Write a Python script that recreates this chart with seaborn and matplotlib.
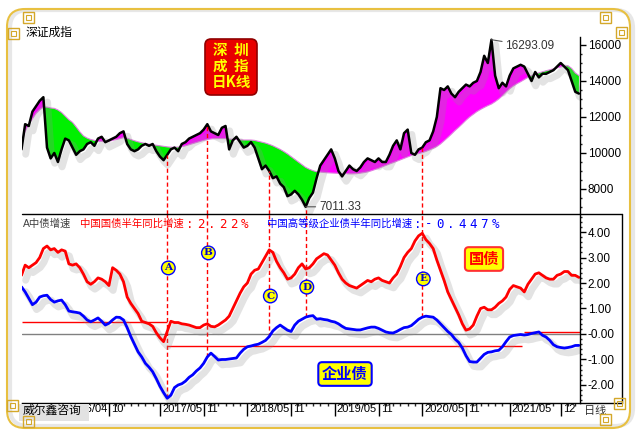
import numpy as np
import pandas as pd
import matplotlib
matplotlib.use('Agg')
import matplotlib.pyplot as plt
import matplotlib.patheffects as pe
from matplotlib.patches import FancyBboxPatch, Rectangle
from matplotlib.lines import Line2D
from matplotlib.ticker import MultipleLocator, FixedLocator
from matplotlib.transforms import ScaledTranslation
import seaborn as sns

# 半月一個樣本，從 2015/10 起
price = [10200, 11600, 11500, 12300, 12600, 12900, 13100, 10300, 9700, 10000,
         9500, 10200, 10800, 10700, 10300, 9900, 10100, 10200, 10500, 10600,
         10400, 10800, 10900, 10600, 10700, 10800, 10900, 11100, 11200, 10500,
         10200, 10100, 10200, 10400, 10500, 10400, 10500, 10100, 9800, 9600,
         9900, 10200, 10300, 10100, 10500, 10600, 10800, 10900, 11000, 11100,
         11300, 11600, 11200, 11100, 11000, 11400, 11500, 10200, 10700, 10900,
         10600, 10300, 10400, 10600, 10300, 9700, 9100, 9300, 9000, 8600,
         8700, 8300, 8100, 7600, 7700, 7900, 7700, 7400, 7011.33, 7500,
         7800, 8600, 9300, 9600, 9900, 10200, 9700, 9000, 8700, 9000,
         9300, 9100, 9000, 9200, 9500, 9700, 9600, 9500, 9700, 9500,
         9500, 9900, 10400, 10700, 10200, 11100, 11300, 10000, 9900, 10200,
         10300, 10600, 10700, 11200, 12000, 13600, 13500, 13700, 13300, 13100,
         13400, 13600, 13800, 13700, 13900, 14000, 14500, 15400, 15000, 16293.09,
         14300, 13600, 13900, 13700, 14300, 14700, 14800, 14900, 14800, 14400,
         14000, 14500, 14200, 14400, 14400, 14500, 14600, 14800, 15000, 14800,
         14600, 14000, 13400, 13300]

base = [10500, 11200, 11600, 11900, 12200, 12400, 12550, 12550, 12500, 12480,
        12390, 12250, 12050, 11850, 11700, 11450, 11180, 10950, 10830, 10750,
        10700, 10650, 10650, 10620, 10650, 10700, 10750, 10800, 10850, 10820,
        10750, 10680, 10620, 10570, 10530, 10490, 10460, 10430, 10400, 10370,
        10340, 10320, 10320, 10330, 10350, 10400, 10460, 10520, 10580, 10640,
        10700, 10750, 10780, 10800, 10800, 10800, 10800, 10780, 10760, 10750,
        10730, 10720, 10720, 10720, 10700, 10650, 10600, 10550, 10480, 10400,
        10300, 10200, 10080, 9950, 9800, 9650, 9500, 9350, 9200, 9100,
        9020, 8960, 8940, 8920, 8900, 8890, 8880, 8870, 8860, 8850,
        8840, 8840, 8850, 8880, 8910, 8950, 9010, 9080, 9150, 9230,
        9310, 9390, 9460, 9540, 9620, 9700, 9780, 9860, 9920, 9970,
        10020, 10090, 10170, 10260, 10360, 10500, 10680, 10860, 11050, 11250,
        11430, 11620, 11820, 12000, 12150, 12300, 12420, 12530, 12630, 12720,
        12850, 13000, 13180, 13380, 13570, 13720, 13850, 13960, 14080, 14200,
        14300, 14380, 14450, 14510, 14570, 14620, 14680, 14730, 14780, 14820,
        14850, 14700, 14450, 14300]

gov = [2.3, 2.7, 2.6, 2.7, 2.8, 3.0, 3.35, 3.45, 3.3, 3.35,
       3.2, 3.3, 3.25, 2.75, 2.7, 2.75, 2.6, 2.35, 2.05, 1.95,
       2.05, 2.2, 2.15, 2.05, 1.9, 2.6, 2.5, 2.35, 2.05, 1.45,
       1.2, 1.0, 0.8, 0.5, 0.45, 0.4, 0.3, 0.05, -0.15, -0.3,
       0.1, 0.5, 0.45, 0.45, 0.4, 0.38, 0.35, 0.3, 0.25, 0.25,
       0.35, 0.4, 0.3, 0.28, 0.35, 0.45, 0.55, 0.7, 1.0, 1.3,
       1.6, 1.85, 2.0, 2.35, 2.5, 2.55, 2.8, 3.05, 3.3, 3.2,
       2.85, 2.6, 2.4, 2.15, 2.2, 2.35, 2.6, 2.75, 2.55, 2.6,
       2.75, 2.95, 3.05, 3.15, 3.1, 2.9, 2.7, 2.4, 2.15, 2.0,
       1.9, 1.85, 1.8, 1.9, 2.0, 2.1, 2.05, 2.15, 2.2, 2.1,
       2.05, 2.0, 2.2, 2.35, 2.65, 3.0, 3.2, 3.35, 3.65, 3.85,
       3.95, 3.7, 3.55, 3.35, 2.9, 2.5, 2.1, 1.65, 1.35, 1.05,
       0.75, 0.4, 0.15, 0.2, 0.35, 0.7, 1.0, 1.05, 0.95, 0.95,
       1.05, 1.2, 1.3, 1.45, 1.75, 1.9, 1.85, 1.8, 1.65, 1.95,
       2.15, 2.35, 2.4, 2.3, 2.2, 2.15, 2.15, 2.3, 2.35, 2.45,
       2.45, 2.3, 2.3, 2.22]

corp = [1.85, 1.65, 1.4, 1.15, 1.25, 1.45, 1.5, 1.52, 1.35, 1.25,
        1.3, 1.33, 1.15, 0.9, 0.87, 0.85, 0.82, 0.7, 0.55, 0.48,
        0.55, 0.63, 0.5, 0.35, 0.42, 0.55, 0.66, 0.65, 0.55, 0.25,
        -0.1, -0.4, -0.7, -0.9, -1.15, -1.3, -1.48, -1.75, -2.05, -2.3,
        -2.52, -2.4, -2.1, -2.0, -1.95, -1.85, -1.7, -1.6, -1.45, -1.33,
        -1.15, -0.9, -0.75, -0.88, -1.02, -1.0, -1.0, -0.98, -0.96, -0.94,
        -0.75, -0.6, -0.5, -0.47, -0.43, -0.4, -0.33, -0.25, -0.1, 0.12,
        0.25, 0.35, 0.25, 0.15, 0.1, 0.35, 0.5, 0.58, 0.66, 0.7,
        0.72, 0.58, 0.6, 0.57, 0.55, 0.5, 0.47, 0.4, 0.3, 0.22,
        0.2, 0.18, 0.16, 0.16, 0.2, 0.24, 0.27, 0.27, 0.22, 0.15,
        0.08, 0.05, 0.04, 0.1, 0.18, 0.25, 0.27, 0.33, 0.45, 0.58,
        0.66, 0.7, 0.68, 0.66, 0.55, 0.4, 0.25, 0.1, -0.02, -0.2,
        -0.33, -0.55, -0.85, -1.08, -1.1, -1.1, -0.95, -0.8, -0.72, -0.7,
        -0.66, -0.64, -0.5, -0.3, -0.12, -0.06, -0.04, -0.02, -0.04, -0.02,
        0.02, 0.05, 0.08, -0.05, -0.12, -0.25, -0.42, -0.5, -0.53, -0.55,
        -0.53, -0.5, -0.45, -0.447]

# x 軸刻度（半月序號）與標籤
tick_pos = [12, 24, 38, 50, 62, 74, 86, 98, 110, 122, 134, 148]
tick_labels = ['2016/04', '10', '2017/05', '11', '2018/05', '11',
               '2019/05', '11', '2020/05', '11', '2021/05', '12']

# 事件標記 A-E
event_names = ['A', 'B', 'C', 'D', 'E']
event_idx = [40, 51, 68, 78, 110]
event_label_y = [2.59, 3.18, 1.49, 1.84, 2.16]

# 紅色參考水平線
ref_levels = [0.46, -0.49, 0.07]
ref_start = [0, 40, 138]
ref_end = [40, 137.5, 153.3]

W, H = 640, 440


def fp(x, y):  # 像素 -> figure 座標
    return x / W, 1 - y / H


df = pd.DataFrame({'t': np.arange(len(price)), 'price': price, 'base': base,
                   'gov': gov, 'corp': corp})

sns.set_theme(style='white')
plt.rcParams['font.family'] = ['Liberation Sans', 'Noto Sans CJK SC', 'DejaVu Sans']
plt.rcParams['axes.unicode_minus'] = False
cjk = ['Noto Sans CJK SC', 'DejaVu Sans']

fig = plt.figure(figsize=(6.4, 4.4), dpi=100)
fig.patch.set_facecolor('white')

shadow = [pe.SimpleLineShadow(offset=(3, -3.5), shadow_color='#909090', alpha=0.25, linewidth=5), pe.Normal()]

# 上圖：深證成指
ax1 = fig.add_axes([21.5 / W, 1 - 214 / H, (580 - 21.5) / W, (214 - 12) / H])
p = np.array(price)
b = np.array(base)
t = df['t'].values
ax1.fill_between(t, p, b, where=p >= b, interpolate=True, color='#ff00ff', lw=0)
ax1.fill_between(t, p, b, where=p < b, interpolate=True, color='#00f000', lw=0)
sns.lineplot(data=df, x='t', y='base', ax=ax1, color='#e080e0', lw=0.8)
sns.lineplot(data=df, x='t', y='price', ax=ax1, color='black', lw=1.8, path_effects=shadow)
ax1.set_xlim(0, 153.3)
ax1.set_ylim(6611, 17833)
for s in ['left', 'top', 'bottom']:
    ax1.spines[s].set_visible(False)
ax1.spines['right'].set_color('black')
ax1.spines['right'].set_linewidth(1)
ax1.spines['right'].set_bounds(6611, 16444)
ax1.yaxis.tick_right()
ax1.set_yticks([8000, 10000, 12000, 14000, 16000])
ax1.yaxis.set_minor_locator(FixedLocator(np.arange(7000, 16500, 500)))
ax1.tick_params(axis='y', which='major', direction='out', length=4.5, width=1, pad=1,
                labelsize=8.5, colors='black', right=True, left=False)
ax1.tick_params(axis='y', which='minor', direction='out', length=1.5, width=1, right=True, left=False)
ax1.set_xticks([])
ax1.set_xlabel('')
ax1.set_ylabel('')

# 最高/最低標註
pk = int(np.argmax(p))
lo = int(np.argmin(p))
ax1.annotate(f'{p[pk]:.2f}', xy=(pk, p[pk]), xytext=(10, -4.5), textcoords='offset points',
             fontsize=8.5, color='#333333', va='center', ha='left',
             arrowprops=dict(arrowstyle='-', color='#555555', lw=0.8, shrinkA=0, shrinkB=0))
ax1.annotate(f'{p[lo]:.2f}', xy=(lo, p[lo]), xytext=(9.5, 0), textcoords='offset points',
             fontsize=8.5, color='#333333', va='center', ha='left',
             arrowprops=dict(arrowstyle='-', color='#555555', lw=0.8, shrinkA=0, shrinkB=0))

# 下圖：債券增速
ax2 = fig.add_axes([21.5 / W, 1 - 403 / H, (580 - 21.5) / W, (403 - 214) / H])
ax2.axhline(0, color='#808080', lw=1, zorder=1)
ax2.hlines(ref_levels, ref_start, ref_end, colors='red', lw=1, zorder=1)
sns.lineplot(data=df, x='t', y='gov', ax=ax2, color='#ff0000', lw=2, path_effects=shadow)
sns.lineplot(data=df, x='t', y='corp', ax=ax2, color='#0000ff', lw=2, path_effects=shadow)
ax2.set_xlim(0, 153.3)
ax2.set_ylim(-2.706, 4.706)
ax2.spines['left'].set_visible(False)
ax2.spines['top'].set_visible(False)
for s in ['right', 'bottom']:
    ax2.spines[s].set_color('black')
    ax2.spines[s].set_linewidth(1)
ax2.yaxis.tick_right()
ax2.set_yticks([-2, -1, 0, 1, 2, 3, 4])
ax2.set_yticklabels(['-2.00', '-1.00', '-0.00', '1.00', '2.00', '3.00', '4.00'])
ax2.yaxis.set_minor_locator(MultipleLocator(0.2))
ax2.tick_params(axis='y', which='major', direction='out', length=4.5, width=1, pad=1,
                labelsize=8.5, colors='black', right=True, left=False)
ax2.tick_params(axis='y', which='minor', direction='out', length=1.5, width=1, right=True, left=False)
ax2.set_xticks(tick_pos)
ax2.set_xticklabels(tick_labels)
ax2.xaxis.set_minor_locator(MultipleLocator(2))
ax2.tick_params(axis='x', which='major', direction='out', length=9, width=1, pad=-8,
                labelsize=8, colors='black', bottom=True)
ax2.tick_params(axis='x', which='minor', direction='out', length=2.5, width=1, bottom=True)
offset = ScaledTranslation(1.5 / 72, 0, fig.dpi_scale_trans)
for lbl in ax2.get_xticklabels():
    lbl.set_horizontalalignment('left')
    lbl.set_transform(lbl.get_transform() + offset)
ax2.set_xlabel('')
ax2.set_ylabel('')

# 事件虛線與圈字
ylo1 = ax1.get_ylim()[0]
yhi2 = ax2.get_ylim()[1]
for name, i, ly in zip(event_names, event_idx, event_label_y):
    ax1.vlines(i, ylo1, p[i], colors='red', linestyles=(0, (3, 2)), lw=1, zorder=5)
    ax2.vlines(i, corp[i], yhi2, colors='red', linestyles=(0, (3, 2)), lw=1, zorder=1)
    ax2.text(i + 0.3, ly, name, ha='center', va='center', fontsize=7.5, fontweight='bold',
             color='#0000cc', family='DejaVu Serif', zorder=6,
             bbox=dict(boxstyle='circle,pad=0.22', fc='#ffff00', ec='#0000ff', lw=1))

# 分隔線與右側框
fig.add_artist(Line2D([21.5 / W, 622 / W], [1 - 214 / H, 1 - 214 / H], color='black', lw=1))
fig.add_artist(Line2D([622 / W, 622 / W], [1 - 214 / H, 1 - 403 / H], color='black', lw=1))
fig.add_artist(Line2D([580 / W, 622 / W], [1 - 403 / H, 1 - 403 / H], color='black', lw=1))

# 標題文字
fig.text(*fp(26, 33), '深证成指', fontsize=8.5, color='black', va='center', ha='left')
fig.text(*fp(23, 224), 'A中债增速', fontsize=7.5, color='#404040', va='center', ha='left')


def title_part(x0, head, value, color):
    # 中文部分用比例字型，數值部分按固定字距逐字排列
    fig.text(*fp(x0, 224), head, fontsize=7.5, color=color, va='center', ha='left', family=cjk)
    xs = x0 + 10.4 * len(head)
    for k, ch in enumerate(value):
        fig.text(*fp(xs + 11 * k + 5.5, 224), ch, fontsize=9, color=color, va='center', ha='center',
                 family='DejaVu Sans Mono')


title_part(80, '中国国债半年同比增速', f':{gov[-1]:.2f}%', '#ff0000')
title_part(267, '中国高等级企业债半年同比增速', f':{corp[-1]:.3f}%', '#0000ff')

# 紅底標籤
fig.add_artist(FancyBboxPatch((2.05, (440 - 95) / 100), 0.52, 0.56,
                              boxstyle='round,pad=0,rounding_size=0.06',
                              transform=fig.dpi_scale_trans, fc='#e80000', ec='#900000', lw=1.2))
for txt, yy in zip(['深  圳', '成  指', '日K线'], [50, 66, 82]):
    fig.text(*fp(231, yy), txt, fontsize=10.5, fontweight='bold', color='#ffff00',
             ha='center', va='center', family=cjk)

fig.text(*fp(484, 259), '国债', fontsize=11, fontweight='bold', color='#ff0000', ha='center', va='center',
         family=cjk, bbox=dict(boxstyle='round,pad=0.25', fc='#ffff00', ec='#ff3030', lw=1.5))
fig.text(*fp(345, 374), '企业债', fontsize=11, fontweight='bold', color='#0000ff', ha='center', va='center',
         family=cjk, bbox=dict(boxstyle='round,pad=0.25', fc='#ffff00', ec='#0000ff', lw=1.5))

# 底部文字（灰底蓋住部分刻度標籤）
fig.add_artist(Rectangle(fp(19, 421), 70 / W, 17 / H, transform=fig.transFigure,
                         fc='#e2e2e2', ec='none', zorder=3))
fig.text(*fp(23, 411), '威尔鑫咨询', fontsize=8.5, color='black', ha='left', va='center', zorder=4)
fig.text(*fp(584, 411), '日线', fontsize=8, color='#333333', ha='left', va='center')

# 金色外框
fig.add_artist(FancyBboxPatch((0.10, (440 - 426) / 100), 6.23, 4.16,
                              boxstyle='round,pad=0,rounding_size=0.18',
                              transform=fig.dpi_scale_trans, fc='none', ec='#d0d0d0',
                              lw=3, alpha=0.5))
fig.add_artist(FancyBboxPatch((0.07, (440 - 428) / 100), 6.23, 4.19,
                              boxstyle='round,pad=0,rounding_size=0.18',
                              transform=fig.dpi_scale_trans, fc='none', ec='#e8c040', lw=1.5))

# 四角裝飾
corner_boxes = [(23, 12), (8, 28), (600, 12), (616, 27), (7, 400), (23, 416), (614, 398), (600, 414)]
for cx, cy in corner_boxes:
    fig.add_artist(Rectangle(fp(cx, cy + 11), 11 / W, 11 / H, transform=fig.transFigure,
                             fc='none', ec='#d4a82a', lw=1, zorder=5))
    fig.add_artist(Rectangle(fp(cx + 3, cy + 8), 5 / W, 5 / H, transform=fig.transFigure,
                             fc='none', ec='#d4a82a', lw=0.8, zorder=5))

fig.savefig('out.png', dpi=100)
